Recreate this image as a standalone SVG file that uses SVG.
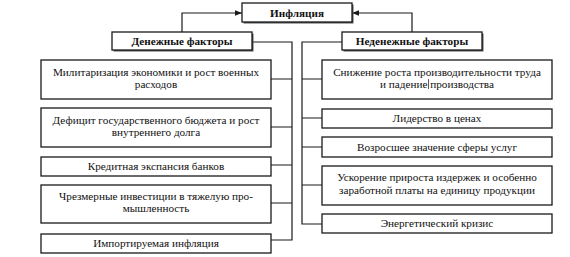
<svg xmlns="http://www.w3.org/2000/svg" width="570" height="257" viewBox="0 0 570 257">
<style>
.box{fill:#fff;stroke:#1a1a1a;stroke-width:1.3}
.sh{fill:#555}
.t{font-family:"Liberation Serif","Times New Roman",serif;font-size:11.2px;fill:#111;text-anchor:middle}
.b{font-weight:bold}
.ln{fill:none;stroke:#1a1a1a;stroke-width:1.2}
</style>
<defs>
<marker id="ar" viewBox="0 0 10 10" refX="10" refY="5" markerWidth="7" markerHeight="7" orient="auto" markerUnits="userSpaceOnUse">
<path d="M0,1 L10,5 L0,9 z" fill="#1a1a1a"/>
</marker>
</defs>
<g id="connectors">
<path class="ln" d="M182,32 V13 H242" marker-end="url(#ar)"/>
<path class="ln" d="M412,32 V13 H352" marker-end="url(#ar)"/>
<path class="ln" d="M252,42 H292 V240 H271 M271,79 H292 M271,127 H292 M271,165 H292 M271,203 H292"/>
<path class="ln" d="M342,42 H302 V224 H322 M302,79 H322 M302,118 H322 M302,147 H322 M302,185 H322"/>
</g>
<g id="inflation">
<rect class="sh" x="243.5" y="4.5" width="110" height="19"/>
<rect class="box" x="242" y="3" width="110" height="19"/>
<text class="t b" x="297" y="16.5">Инфляция</text>
</g>
<g id="monetary">
<rect class="sh" x="113.5" y="33.5" width="140" height="18"/>
<rect class="box" x="112" y="32" width="140" height="18"/>
<text class="t b" x="182" y="45">Денежные факторы</text>
</g>
<g id="nonmonetary">
<rect class="sh" x="343.5" y="33.5" width="140" height="18"/>
<rect class="box" x="342" y="32" width="140" height="18"/>
<text class="t b" x="412" y="45">Неденежные факторы</text>
</g>
<g id="l1">
<rect class="box" x="41" y="60" width="230" height="39"/>
<text class="t" x="156" y="76">Милитаризация экономики и рост военных</text>
<text class="t" x="156" y="88">расходов</text>
</g>
<g id="l2">
<rect class="box" x="41" y="108" width="230" height="39"/>
<text class="t" x="156" y="124">Дефицит государственного бюджета и рост</text>
<text class="t" x="156" y="136">внутреннего долга</text>
</g>
<g id="l3">
<rect class="box" x="41" y="157" width="230" height="19"/>
<text class="t" x="156" y="170">Кредитная экспансия банков</text>
</g>
<g id="l4">
<rect class="box" x="41" y="185" width="230" height="38"/>
<text class="t" x="156" y="200">Чрезмерные инвестиции в тяжелую про-</text>
<text class="t" x="156" y="212">мышленность</text>
</g>
<g id="l5">
<rect class="box" x="41" y="234" width="230" height="19"/>
<text class="t" x="156" y="247">Импортируемая инфляция</text>
</g>
<g id="r1">
<rect class="box" x="322" y="60" width="230" height="39"/>
<text class="t" x="437" y="76">Снижение роста производительности труда</text>
<text class="t" x="437" y="88">и падение производства</text>
<line x1="428.5" y1="79" x2="428.5" y2="89" stroke="#333" stroke-width="0.8"/>
</g>
<g id="r2">
<rect class="box" x="322" y="109" width="230" height="19"/>
<text class="t" x="437" y="122">Лидерство в ценах</text>
</g>
<g id="r3">
<rect class="box" x="322" y="137" width="230" height="20"/>
<text class="t" x="437" y="151">Возросшее значение сферы услуг</text>
</g>
<g id="r4">
<rect class="box" x="322" y="166" width="230" height="39"/>
<text class="t" x="437" y="181">Ускорение прироста издержек и особенно</text>
<text class="t" x="437" y="194">заработной платы на единицу продукции</text>
</g>
<g id="r5">
<rect class="box" x="322" y="214" width="230" height="19"/>
<text class="t" x="437" y="227">Энергетический кризис</text>
</g>
</svg>
